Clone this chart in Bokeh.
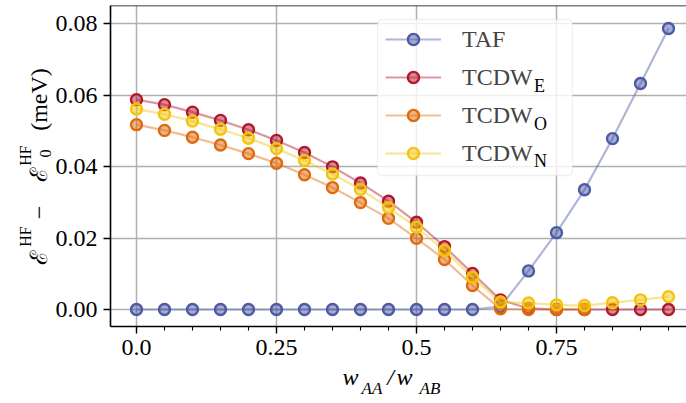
import numpy as np
from bokeh.plotting import figure
from bokeh.models import (Range1d, FixedTicker, Legend, LegendItem, Label, Span, LinearAxis,
                          BoxAnnotation)
from bokeh.embed import file_html
from bokeh.resources import INLINE

# ---------------- data ----------------
w_ratio = [0.0, 0.05, 0.10, 0.15, 0.20, 0.25, 0.30, 0.35, 0.40, 0.45,
           0.50, 0.55, 0.60, 0.65, 0.70, 0.75, 0.80, 0.85, 0.90, 0.95]
taf = [0.0, 0.0, 0.0, 0.0, 0.0, 0.0, 0.0, 0.0, 0.0, 0.0,
       0.0, 0.0, 0.0, 0.0008, 0.0108, 0.0215, 0.0335, 0.0478, 0.0632, 0.0786]
tcdw_e = [0.0587, 0.0573, 0.0552, 0.0529, 0.0503, 0.0473, 0.0439, 0.0399, 0.0354, 0.0303,
          0.0244, 0.0176, 0.0101, 0.0027, 0.0003, 0.0, 0.0, 0.0, 0.0, 0.0]
w_ratio_o = [0.0, 0.05, 0.10, 0.15, 0.20, 0.25, 0.30, 0.35, 0.40, 0.45,
             0.50, 0.55, 0.60, 0.65, 0.70, 0.75, 0.80]
tcdw_o = [0.0517, 0.0501, 0.0482, 0.0460, 0.0436, 0.0409, 0.0377, 0.0341, 0.0299, 0.0255,
          0.0199, 0.0140, 0.0067, 0.0002, 0.0, 0.0, 0.0]
tcdw_n = [0.0561, 0.0546, 0.0527, 0.0504, 0.0479, 0.0450, 0.0417, 0.0379, 0.0336, 0.0285,
          0.0230, 0.0165, 0.0090, 0.0021, 0.0018, 0.0013, 0.0011, 0.0019, 0.0027, 0.0036]

x_major = [0.0, 0.25, 0.5, 0.75]
x_major_labels = ["0.0", "0.25", "0.5", "0.75"]
x_minor = [0.0, 0.05, 0.10, 0.15, 0.20, 0.25, 0.30, 0.35, 0.40, 0.45,
           0.50, 0.55, 0.60, 0.65, 0.70, 0.75, 0.80, 0.85, 0.90, 0.95]
y_major = [0.0, 0.02, 0.04, 0.06, 0.08]
y_major_labels = ["0.00", "0.02", "0.04", "0.06", "0.08"]

# ---------------- layout helpers (canvas px -> data) ----------------
XS, X0 = 560.0, 136.0
YS, Y0 = 3575.0, 309.0
def dx(px):
    return round((px - X0) / XS, 6)
def dy(py):
    return round((Y0 - py) / YS, 6)

W, H = 686, 403
SERIF = "Liberation Serif"

p = figure(width=W, height=H, output_backend="svg", toolbar_location=None,
           x_range=Range1d(dx(110), dx(686)), y_range=Range1d(dy(326), dy(5)),
           min_border_left=110, min_border_right=0, min_border_top=5, min_border_bottom=77)
p.outline_line_color = None
p.background_fill_color = "white"
p.border_fill_color = "white"

# axes
for ax in (p.xaxis[0], p.yaxis[0]):
    ax.axis_line_color = "black"
    ax.axis_line_width = 1.6
    ax.major_tick_line_color = "black"
    ax.major_tick_line_width = 1.4
    ax.major_tick_in = 0
    ax.major_tick_out = 7
    ax.minor_tick_in = 0
    ax.minor_tick_out = 4
    ax.minor_tick_line_color = "black"
    ax.minor_tick_line_width = 1.1
    ax.major_label_text_font = SERIF
    ax.major_label_text_font_size = "24px"
    ax.major_label_text_color = "black"
    ax.major_label_standoff = 6

p.xaxis[0].ticker = FixedTicker(ticks=x_major, minor_ticks=x_minor)
p.xaxis[0].major_label_overrides = dict(zip(x_major, x_major_labels))
p.yaxis[0].ticker = FixedTicker(ticks=y_major, minor_ticks=[])
p.yaxis[0].major_label_overrides = dict(zip(y_major, y_major_labels))
p.yaxis[0].minor_tick_line_color = None

p.xgrid.grid_line_color = "#b0b0b0"
p.ygrid.grid_line_color = "#b0b0b0"
p.xgrid.grid_line_width = 1.5
p.ygrid.grid_line_width = 1.5

# top frame line
p.add_layout(Span(location=dy(5), dimension="width", line_color="black", line_width=1.6))

# ---------------- series ----------------
series = [
    ("TAF", w_ratio, taf, "#4c5aa6"),
    ("E", w_ratio, tcdw_e, "#b3172b"),
    ("O", w_ratio_o, tcdw_o, "#df6a0c"),
    ("N", w_ratio, tcdw_n, "#f2c40c"),
]
items = []
for name, xs, ys, col in series:
    lr = p.line(xs, ys, line_color=col, line_alpha=0.45, line_width=2.2)
    sr = p.scatter(xs, ys, marker="circle", size=11, fill_color=col, fill_alpha=0.5,
                   line_color=col, line_width=2.4)
    items.append(LegendItem(label="TAF" if name == "TAF" else "TCDW", renderers=[lr, sr]))

# legend frame (semi-transparent white box, drawn above the data)
p.add_layout(BoxAnnotation(left=dx(377), right=dx(572), top=dy(19), bottom=dy(175),
                           fill_color="white", fill_alpha=0.8, line_color="#cccccc",
                           line_width=1.3, border_radius=5, level="glyph"))

legend = Legend(items=items, location=(267, 151), margin=0, padding=8,
                spacing=10, glyph_width=56, glyph_height=28, label_height=28,
                label_width=102, label_standoff=21,
                label_text_font=SERIF, label_text_font_size="24px",
                border_line_color="#cccccc", border_line_alpha=0.0,
                background_fill_color="white", background_fill_alpha=0.0)
p.add_layout(legend)

# legend subscripts
for sub, py in (("E", 85.5), ("O", 123), ("N", 160.5)):
    p.add_layout(Label(x=dx(533.5), y=dy(py), text=sub, text_font=SERIF, level="overlay",
                       text_color="black", text_font_size="18px",
                       text_align="left", text_baseline="middle"))

# ---------------- axis labels built from label-only axes ----------------
def label_axis(side, positions, texts, size, standoff, style="normal", vertical=False):
    ax = LinearAxis(ticker=FixedTicker(ticks=positions, minor_ticks=[]),
                    major_label_overrides=dict(zip(positions, texts)),
                    axis_line_color=None, major_tick_line_color=None,
                    minor_tick_line_color=None, major_tick_in=0, major_tick_out=0,
                    minor_tick_in=0, minor_tick_out=0,
                    major_label_text_font=SERIF, major_label_text_font_size=size,
                    major_label_text_font_style=style, major_label_text_color="black",
                    major_label_standoff=standoff)
    if vertical:
        ax.major_label_orientation = "vertical"
    p.add_layout(ax, side)

# x label: w_AA / w_AB
label_axis("below", [dx(350), dx(390), dx(404)], ["w", "/", "w"], "24px", 6, "italic")
label_axis("below", [dx(371.5), dx(429.5)], ["AA", "AB"], "17px", -14, "italic")

# y label: E^HF - E_0^HF (meV)
label_axis("left", [dy(153)], ["0"], "16px", 1, vertical=True)
label_axis("left", [dy(257), dy(212), dy(175), dy(99)], ["ℰ", "−", "ℰ", "(meV)"], "24px", -15,
           vertical=True)
label_axis("left", [dy(236), dy(155)], ["HF", "HF"], "16px", -11, vertical=True)

open("out.html", "w").write(file_html(p, INLINE))
